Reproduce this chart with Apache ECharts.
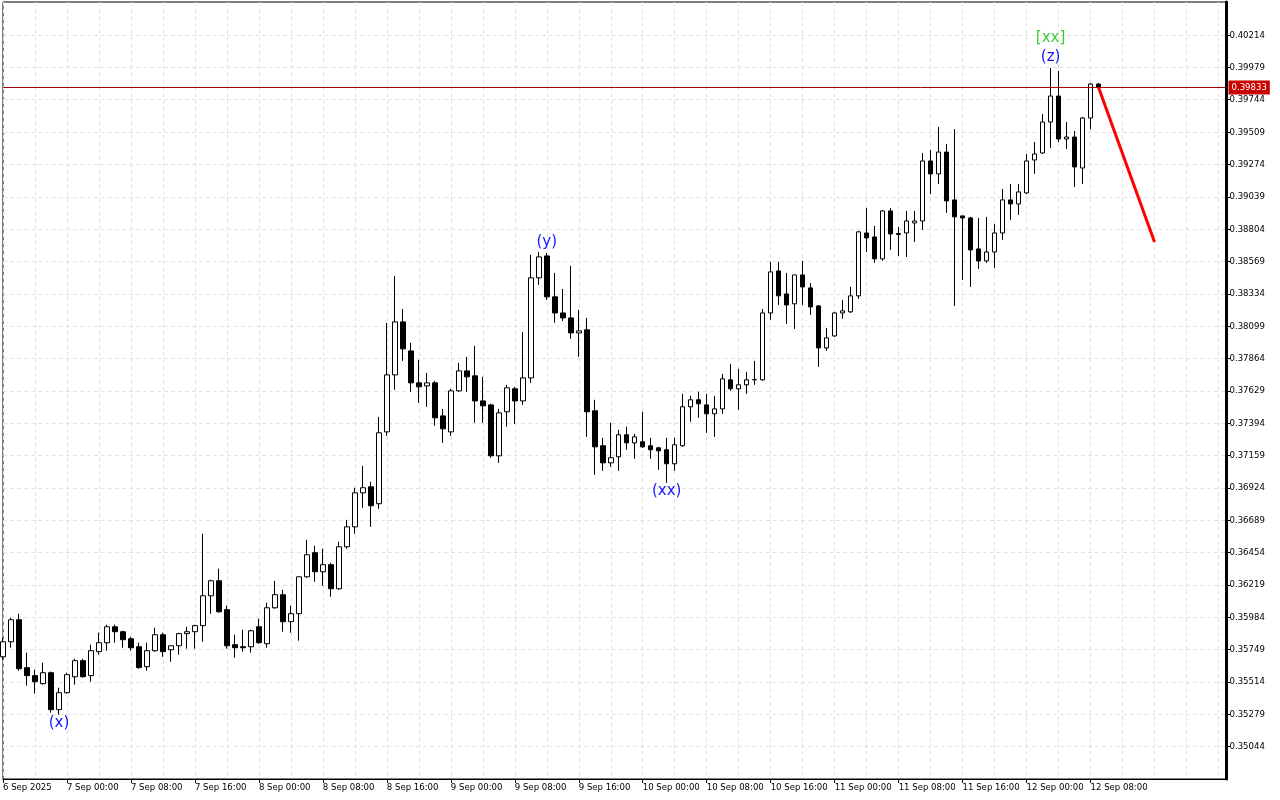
<!DOCTYPE html>
<html>
<head>
<meta charset="utf-8">
<script src="https://cdn.jsdelivr.net/npm/echarts@6/dist/echarts.min.js"></script>
<style>
html,body{margin:0;padding:0;background:#fff;}
#chart{width:1280px;height:800px;}
</style>
</head>
<body>
<div id="chart"></div>
<script>
const xTickLabels = ["6 Sep 2025","7 Sep 00:00","7 Sep 08:00","7 Sep 16:00","8 Sep 00:00","8 Sep 08:00","8 Sep 16:00","9 Sep 00:00","9 Sep 08:00","9 Sep 16:00","10 Sep 00:00","10 Sep 08:00","10 Sep 16:00","11 Sep 00:00","11 Sep 08:00","11 Sep 16:00","12 Sep 00:00","12 Sep 08:00"];
const yTicks = [0.35044,0.35279,0.35514,0.35749,0.35984,0.36219,0.36454,0.36689,0.36924,0.37159,0.37394,0.37629,0.37864,0.38099,0.38334,0.38569,0.38804,0.39039,0.39274,0.39509,0.39744,0.39979,0.40214];

const opens = [0.35697,0.35806,0.35966,0.35618,0.35560,0.35502,0.35581,0.35313,0.35436,0.35552,
0.35669,0.35560,0.35734,0.35799,0.35915,0.35879,0.35828,0.35770,0.35625,0.35741,
0.35857,0.35748,0.35777,0.35865,0.35879,0.35923,0.36140,0.36249,0.36039,0.35785,
0.35770,0.35770,0.35915,0.35792,0.36053,0.36148,0.35952,0.36010,0.36278,0.36453,
0.36315,0.36366,0.36191,0.36496,0.36641,0.36888,0.36932,0.36809,0.37331,0.37745,
0.38130,0.37919,0.37687,0.37665,0.37687,0.37447,0.37331,0.37629,0.37774,0.37738,
0.37556,0.37527,0.37157,0.37477,0.37644,0.37556,0.37723,0.38450,0.38609,0.38312,
0.38195,0.38159,0.38050,0.38072,0.37484,0.37230,0.37106,0.37150,0.37310,0.37251,
0.37259,0.37230,0.37215,0.37201,0.37099,0.37230,0.37513,0.37564,0.37527,0.37462,
0.37498,0.37709,0.37644,0.37673,0.37709,0.37709,0.38195,0.38500,0.38333,0.38261,
0.38471,0.38377,0.38246,0.37941,0.38028,0.38195,0.38203,0.38319,0.38776,0.38747,
0.38588,0.38936,0.38772,0.38776,0.38849,0.38863,0.39299,0.39205,0.39364,0.39016,
0.38900,0.38885,0.38660,0.38573,0.38638,0.38776,0.39016,0.38987,0.39067,0.39306,
0.39357,0.39582,0.39771,0.39459,0.39473,0.39248,0.39611,0.39858];

const closes = [0.35806,0.35966,0.35610,0.35560,0.35516,0.35581,0.35313,0.35436,0.35567,0.35669,
0.35552,0.35741,0.35799,0.35915,0.35879,0.35821,0.35763,0.35618,0.35741,0.35857,
0.35734,0.35777,0.35865,0.35879,0.35923,0.36140,0.36249,0.36024,0.35777,0.35763,
0.35763,0.35886,0.35799,0.36053,0.36148,0.35952,0.36010,0.36278,0.36438,0.36315,
0.36366,0.36191,0.36496,0.36641,0.36888,0.36925,0.36794,0.37324,0.37745,0.38130,
0.37934,0.37687,0.37658,0.37687,0.37433,0.37353,0.37629,0.37774,0.37731,0.37556,
0.37520,0.37157,0.37469,0.37651,0.37556,0.37723,0.38450,0.38602,0.38312,0.38195,
0.38159,0.38050,0.38065,0.37477,0.37222,0.37106,0.37143,0.37310,0.37251,0.37295,
0.37222,0.37201,0.37193,0.37099,0.37237,0.37513,0.37564,0.37535,0.37462,0.37498,
0.37716,0.37644,0.37673,0.37709,0.37712,0.38195,0.38493,0.38319,0.38253,0.38471,
0.38384,0.38239,0.37941,0.38014,0.38195,0.38210,0.38319,0.38784,0.38740,0.38588,
0.38936,0.38769,0.38765,0.38863,0.38863,0.39299,0.39205,0.39364,0.39009,0.38893,
0.38885,0.38653,0.38573,0.38638,0.38776,0.39016,0.38987,0.39074,0.39299,0.39350,
0.39582,0.39771,0.39459,0.39473,0.39256,0.39611,0.39858,0.39833];

const highs = [0.35835,0.35981,0.36010,0.35727,0.35603,0.35654,0.35589,0.35472,0.35581,0.35683,
0.35683,0.35785,0.35872,0.35930,0.35930,0.35886,0.35843,0.35799,0.35799,0.35908,
0.35872,0.35777,0.35872,0.35915,0.35930,0.36591,0.36257,0.36337,0.36068,0.35857,
0.35894,0.35894,0.35973,0.36090,0.36249,0.36184,0.36068,0.36278,0.36547,0.36504,
0.36482,0.36380,0.36533,0.36692,0.36925,0.37084,0.36968,0.37440,0.38123,0.38464,
0.38224,0.37978,0.37854,0.37760,0.37702,0.37498,0.37644,0.37832,0.37876,0.37956,
0.37731,0.37535,0.37498,0.37673,0.37658,0.38057,0.38617,0.38638,0.38631,0.38486,
0.38370,0.38537,0.38217,0.38159,0.37564,0.37288,0.37397,0.37346,0.37368,0.37317,
0.37477,0.37288,0.37222,0.37288,0.37288,0.37607,0.37593,0.37622,0.37607,0.37593,
0.37752,0.37825,0.37789,0.37767,0.37847,0.38224,0.38566,0.38566,0.38486,0.38471,
0.38573,0.38413,0.38253,0.38086,0.38203,0.38290,0.38384,0.38791,0.38958,0.38827,
0.38943,0.38958,0.38820,0.38936,0.38936,0.39357,0.39379,0.39546,0.39423,0.39531,
0.38900,0.38893,0.38885,0.38893,0.38842,0.39096,0.39132,0.39132,0.39350,0.39437,
0.39640,0.39974,0.39953,0.39582,0.39517,0.39619,0.39865,0.39865];

const lows = [0.35676,0.35763,0.35596,0.35487,0.35429,0.35494,0.35291,0.35276,0.35429,0.35494,
0.35545,0.35516,0.35712,0.35741,0.35799,0.35763,0.35741,0.35610,0.35596,0.35734,
0.35697,0.35661,0.35712,0.35756,0.35756,0.35806,0.36010,0.36017,0.35756,0.35690,
0.35734,0.35727,0.35792,0.35763,0.36046,0.35879,0.35872,0.35814,0.36271,0.36242,
0.36213,0.36133,0.36184,0.36482,0.36591,0.36779,0.36641,0.36772,0.37302,0.37636,
0.37847,0.37622,0.37542,0.37513,0.37375,0.37251,0.37302,0.37622,0.37622,0.37397,
0.37397,0.37143,0.37106,0.37368,0.37389,0.37527,0.37687,0.38399,0.38290,0.38123,
0.38137,0.38007,0.37876,0.37295,0.37019,0.37048,0.37077,0.37048,0.37201,0.37135,
0.37215,0.37135,0.37055,0.36961,0.37048,0.37222,0.37404,0.37433,0.37324,0.37295,
0.37462,0.37629,0.37491,0.37607,0.37673,0.37702,0.38145,0.38253,0.38115,0.38079,
0.38253,0.38181,0.37803,0.37919,0.38021,0.38152,0.38195,0.38297,0.38638,0.38558,
0.38573,0.38653,0.38609,0.38602,0.38711,0.38798,0.39059,0.39132,0.38922,0.38246,
0.38435,0.38384,0.38515,0.38558,0.38522,0.38726,0.38871,0.38907,0.39059,0.39205,
0.39350,0.39394,0.39437,0.39386,0.39110,0.39132,0.39531,0.39833];

const currentPrice = 0.39833;
const forecastIdx = [137, 144];
const forecastVals = [0.39833, 0.38711];

const lowWaveIdx = [7, 83];
const lowWaveText = ["(x)", "(xx)"];
const highWaveIdx = [68, 131];
const highWaveText = ["(y)", "(z)"];
const greenWaveIdx = [131];
const greenWaveText = ["[xx]"];

const SLOTS = 154;
const categories = [];
for (let i = 0; i < SLOTS; i++) {
  categories.push(i % 8 === 0 && xTickLabels[i / 8] ? xTickLabels[i / 8] : "");
}
const hasLabel = (i) => i % 8 === 0 && i / 8 < xTickLabels.length;
const candleData = opens.map((o, i) => [o, closes[i], lows[i], highs[i]]);

const axisFont = "'DejaVu Sans Condensed','Liberation Sans',sans-serif";
const gridLine = { show: true, lineStyle: { color: '#e2e2e2', type: [4, 3], width: 1 } };

const chart = echarts.init(document.getElementById('chart'), null, { renderer: 'canvas' });
chart.setOption({
  animation: false,
  backgroundColor: '#ffffff',
  grid: { left: 2.5, right: 53.5, top: 2, bottom: 21, show: true, borderColor: '#000', borderWidth: 1, backgroundColor: '#fff' },
  xAxis: {
    type: 'category',
    data: categories,
    boundaryGap: false,
    axisLine: { onZero: false, lineStyle: { color: '#000', width: 1 } },
    axisTick: { show: true, interval: (i) => hasLabel(i), length: 4, lineStyle: { color: '#000' } },
    axisLabel: { interval: (i) => hasLabel(i), align: 'left', margin: 4, fontSize: 9.5, fontFamily: axisFont, color: '#000' },
    splitLine: Object.assign({ interval: (i) => i % 4 === 0 }, gridLine)
  },
  yAxis: {
    type: 'value',
    position: 'right',
    min: 0.34809,
    max: 0.40454,
    axisLine: { show: true, lineStyle: { color: '#000', width: 3 } },
    axisTick: { show: true, length: 4, customValues: yTicks, lineStyle: { color: '#000' } },
    axisLabel: { customValues: yTicks, formatter: (v) => v.toFixed(5), margin: 3, fontSize: 9.5, fontFamily: axisFont, color: '#000', padding: [3, 0, 0, 0] },
    splitLine: gridLine
  },
  series: [
    {
      type: 'candlestick',
      data: candleData,
      barWidth: 5,
      itemStyle: { color: '#ffffff', color0: '#000000', borderColor: '#000000', borderColor0: '#000000', borderWidth: 1 }
    },
    {
      type: 'line',
      data: [[0, currentPrice], [SLOTS - 1, currentPrice]],
      symbol: 'none',
      clip: false,
      silent: true,
      lineStyle: { color: '#a00000', width: 1 },
      z: 4,
      endLabel: { show: true, distance: 2, formatter: () => currentPrice.toFixed(5), color: '#fff', backgroundColor: '#c80000', padding: [3, 3, 1, 3], fontSize: 9.5, fontFamily: axisFont }
    },
    {
      type: 'line',
      data: forecastIdx.map((x, i) => [x, forecastVals[i]]),
      symbol: 'none',
      clip: false,
      lineStyle: { color: '#ff0000', width: 3 },
      z: 5
    },
    {
      type: 'scatter',
      symbolSize: 0,
      itemStyle: { opacity: 1 },
      data: lowWaveIdx.map((x, i) => ({ value: [x, lows[x]], name: lowWaveText[i] })),
      label: { show: true, position: 'bottom', distance: 1, formatter: (p) => p.name, color: '#1414ff', fontSize: 15, fontFamily: 'DejaVu Sans' },
      z: 6
    },
    {
      type: 'scatter',
      symbolSize: 0,
      itemStyle: { opacity: 1 },
      data: highWaveIdx.map((x, i) => ({ value: [x, highs[x]], name: highWaveText[i] })),
      label: { show: true, position: 'top', distance: 3, formatter: (p) => p.name, color: '#1414ff', fontSize: 15, fontFamily: 'DejaVu Sans' },
      z: 6
    },
    {
      type: 'scatter',
      symbolSize: 0,
      itemStyle: { opacity: 1 },
      data: greenWaveIdx.map((x, i) => ({ value: [x, highs[x]], name: greenWaveText[i] })),
      label: { show: true, position: 'top', distance: 22, formatter: (p) => p.name, color: '#3ccc3c', fontSize: 15, fontFamily: 'DejaVu Sans' },
      z: 6
    }
  ]
});
</script>
</body>
</html>
